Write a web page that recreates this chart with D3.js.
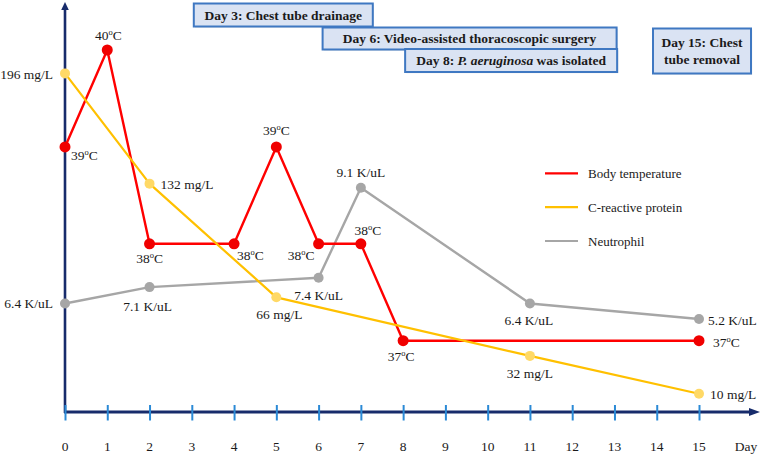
<!DOCTYPE html>
<html><head><meta charset="utf-8">
<script src="https://cdn.jsdelivr.net/npm/d3@7"></script>
<style>
  @font-face { font-family: 'RefSerif'; src: local('Liberation Serif'), local('LiberationSerif'); font-weight: normal; font-style: normal; }
  @font-face { font-family: 'RefSerif'; src: local('Liberation Serif Bold'), local('LiberationSerif-Bold'); font-weight: bold; font-style: normal; }
  @font-face { font-family: 'RefSerif'; src: local('Liberation Serif Bold Italic'), local('LiberationSerif-BoldItalic'); font-weight: bold; font-style: italic; }
</style>
</head>
<body style="margin:0">
<svg id="s" width="762" height="458"></svg>
<script>
// ---------------- DATA ----------------
const dayTicks = [0,1,2,3,4,5,6,7,8,9,10,11,12,13,14,15];

const tempDays   = [0, 1, 2, 4, 5, 6, 7, 8, 15];
const tempValues = [39, 40, 38, 38, 39, 38, 38, 37, 37];

const crpDays   = [0, 2, 5, 11, 15];
const crpValues = [196, 132, 66, 32, 10];

const neuDays   = [0, 2, 6, 7, 11, 15];
const neuValues = [6.4, 7.1, 7.4, 9.1, 6.4, 5.2];

const seriesNames = ["Body temperature", "C-reactive protein", "Neutrophil"];

const eventDays  = [3, 6, 8, 15];
const eventTexts = [
  [[["Day 3: Chest tube drainage", false]]],
  [[["Day 6: Video-assisted thoracoscopic surgery", false]]],
  [[["Day 8: ", false], ["P. aeruginosa", true], [" was isolated", false]]],
  [[["Day 15: Chest", false]], [["tube removal", false]]]
];

// ---------------- LAYOUT ----------------
const FONT = "'Liberation Serif', 'RefSerif', 'Times New Roman', Tinos";
const svg = d3.select("#s");
const axisY = 412;
const x = d3.scaleLinear().domain([0, 15]).range([65, 699]);
const yTemp = d3.scaleLinear().domain([37, 40]).range([340.7, 50]);
const yCrp  = d3.scaleLinear().domain([0, 200]).range([411, 66.5]);
const yNeu  = d3.scalePow().exponent(5).domain([5.2, 9.1]).range([319, 187.7]);

const colors = {
  temp: "#ff0000", tempDot: "#f00000",
  crp: "#ffc000", crpDot: "#ffd966",
  neu: "#a6a6a6", neuDot: "#a6a6a6"
};
const navy = "#172b6b";
const tickBlue = "#2b8ad6";
const textColor = "#1a1a1a";

// label placements [anchor, dx, dy]
const tempLabelPos = [["start",6,13],["middle",1,-10],["middle",0,19],["start",3,16],["middle",0,-12],["end",-4,16],["middle",7,-9],["middle",-2,20],["start",14,6]];
const crpLabelPos  = [["end",-12,6],["start",11,5],["middle",3,22],["middle",0,22],["start",11,5]];
const neuLabelPos  = [["end",-12,5],["middle",-2,24],["middle",0,22],["middle",0,-11],["middle",-1,22],["start",9,6]];

// event box layout
const eventBoxLayout = [
  {dx: 2, top: 3.5, w: 179, h: 23, mode: "left"},
  {dx: 4, top: 27.5, w: 294, h: 22, mode: "left"},
  {dx: 2, top: 49, w: 212, h: 23, mode: "left"},
  {dx: 3, top: 28.5, w: 98, h: 45, mode: "center"}
];

function txt(sel, size) {
  return sel.attr("font-family", FONT).style("font-family", FONT)
    .style("font-size", size + "px").attr("fill", textColor);
}

// ---------------- AXES ----------------
const gAxis = svg.append("g");
gAxis.append("line").attr("x1", x(0)).attr("x2", x(0)).attr("y1", axisY + 1).attr("y2", 9)
  .attr("stroke", navy).attr("stroke-width", 2.6);
gAxis.append("path").attr("d", `M${x(0)},2 L${x(0)-3.8},10 L${x(0)+3.8},10 Z`).attr("fill", navy);
gAxis.append("line").attr("x1", x(0) - 1).attr("x2", 751).attr("y1", axisY).attr("y2", axisY)
  .attr("stroke", navy).attr("stroke-width", 2.8);
gAxis.append("path").attr("d", `M760,${axisY} L749,${axisY-4} L749,${axisY+4} Z`).attr("fill", navy);

// tick marks via d3 axis (labels drawn separately)
const xAxis = d3.axisBottom(x).tickValues(dayTicks).tickFormat("").tickSize(0);
const gx = svg.append("g").attr("transform", `translate(0,${axisY})`).call(xAxis);
gx.select(".domain").remove();
gx.selectAll(".tick text").remove();
gx.selectAll(".tick line").attr("y1", -7).attr("y2", 8.5).attr("stroke", tickBlue).attr("stroke-width", 2);

const gLabels = svg.append("g");
dayTicks.forEach(d => {
  txt(gLabels.append("text").attr("x", x(d)).attr("y", axisY + 39).attr("text-anchor", "middle"), 13.5).text(String(d));
});
txt(gLabels.append("text").attr("x", 746).attr("y", axisY + 39).attr("text-anchor", "middle"), 13.5).text("Day");

// ---------------- EVENT BOXES ----------------
eventDays.forEach((d, i) => {
  const L = eventBoxLayout[i];
  const left = L.mode === "left" ? x(d) + L.dx : x(d) + L.dx - L.w / 2;
  const g = svg.append("g");
  g.append("rect").attr("x", left + 1.2).attr("y", L.top + 1.2).attr("width", L.w).attr("height", L.h)
    .attr("fill", "#c9c9c9").attr("opacity", 0.5);
  g.append("rect").attr("x", left).attr("y", L.top).attr("width", L.w).attr("height", L.h)
    .attr("fill", "#dae3f3").attr("stroke", "#3f78c2").attr("stroke-width", 2);
  const lines = eventTexts[i];
  const lh = 16.7;
  const firstBase = L.top + L.h / 2 + 4.8 - (lines.length - 1) * lh / 2;
  lines.forEach((parts, li) => {
    const t = txt(g.append("text").attr("x", left + L.w / 2).attr("y", firstBase + li * lh)
      .attr("text-anchor", "middle"), 13.5).style("font-weight", "bold");
    parts.forEach(p => {
      t.append("tspan").text(p[0]).style("font-style", p[1] ? "italic" : "normal");
    });
  });
});

// ---------------- LEGEND ----------------
const legendColors = [colors.temp, colors.crp, colors.neu];
const legendY = d3.scalePoint().domain(seriesNames).range([173.3, 241]);
seriesNames.forEach((n, i) => {
  svg.append("line").attr("x1", 545).attr("x2", 578).attr("y1", legendY(n)).attr("y2", legendY(n))
    .attr("stroke", legendColors[i]).attr("stroke-width", 2.2);
  txt(svg.append("text").attr("x", 588).attr("y", legendY(n) + 4.5), 13).text(n);
});

// ---------------- SERIES ----------------
function drawSeries(days, values, yScale, lineColor, dotColor, lw, r) {
  const pts = days.map((d, i) => [x(d), yScale(values[i])]);
  const g = svg.append("g");
  g.append("path").attr("d", d3.line()(pts)).attr("fill", "none")
    .attr("stroke", lineColor).attr("stroke-width", lw).attr("stroke-linejoin", "round");
  g.selectAll("circle").data(pts).join("circle")
    .attr("cx", p => p[0]).attr("cy", p => p[1]).attr("r", r).attr("fill", dotColor);
  return pts;
}

function addLabel(px, py, pos, parts) {
  const t = txt(svg.append("text").attr("x", px + pos[1]).attr("y", py + pos[2])
    .attr("text-anchor", pos[0]), 13.5);
  parts(t);
}

const neuPts = drawSeries(neuDays, neuValues, yNeu, colors.neu, colors.neuDot, 2.4, 5);
const tempPts = drawSeries(tempDays, tempValues, yTemp, colors.temp, colors.tempDot, 2.4, 5.5);
const crpPts = drawSeries(crpDays, crpValues, yCrp, colors.crp, colors.crpDot, 2.2, 5);

tempPts.forEach((p, i) => {
  addLabel(p[0], p[1], tempLabelPos[i], t => {
    t.append("tspan").text(tempValues[i]);
    t.append("tspan").text("o").style("font-size", "8.5px").attr("dy", -5);
    t.append("tspan").text("C").attr("dy", 5);
  });
});
crpPts.forEach((p, i) => {
  addLabel(p[0], p[1], crpLabelPos[i], t => t.text(`${crpValues[i]} mg/L`));
});
neuPts.forEach((p, i) => {
  addLabel(p[0], p[1], neuLabelPos[i], t => t.text(`${neuValues[i]} K/uL`));
});
</script>
</body>
</html>
